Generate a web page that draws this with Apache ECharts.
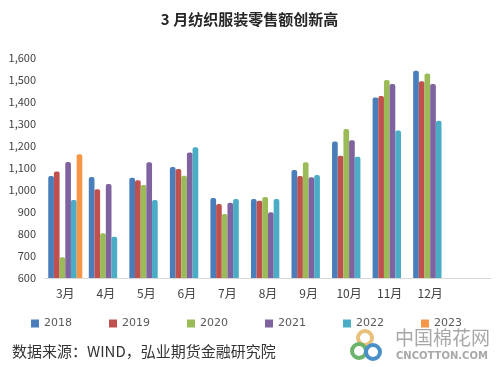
<!DOCTYPE html>
<html><head><meta charset="utf-8">
<script src="https://cdn.jsdelivr.net/npm/echarts@6/dist/echarts.min.js"></script>
<style>html,body{margin:0;padding:0;background:#fff}#c{width:499px;height:367px}</style>
</head><body><div id="c"></div>
<script>
const months = ['3月','4月','5月','6月','7月','8月','9月','10月','11月','12月',''];
const years = ['2018','2019','2020','2021','2022','2023'];
const v2018 = [1064,1059,1056,1105,964,959,1091,1220,1420,1542];
const v2019 = [1084,1003,1044,1095,936,951,1064,1156,1427,1494];
const v2020 = [694,803,1023,1065,891,968,1126,1277,1500,1530];
const v2021 = [1127,1027,1126,1171,942,899,1058,1226,1482,1482];
const v2022 = [955,788,955,1194,959,959,1068,1151,1270,1315];
const v2023 = [1163];
const yTicks = [600,700,800,900,1000,1100,1200,1300,1400,1500,1600];
const colors = ['#4a7ebb','#c0504d','#9bbb59','#7f63a1','#4bacc6','#f79646'];
const values = [v2018,v2019,v2020,v2021,v2022,v2023];

const chart = echarts.init(document.getElementById('c'));
const font = '"Noto Sans CJK SC", sans-serif';
chart.setOption({
  animation:false,
  textStyle:{fontFamily:font},
  title:{text:'3 月纺织服装零售额创新高',left:'center',top:7,
    textStyle:{fontSize:15,fontWeight:'bold',color:'#262626',fontFamily:'"Noto Sans CJK SC", serif'}},
  grid:{left:45,right:8,top:58,bottom:89},
  legend:{left:26,top:313,itemWidth:8,itemHeight:8,itemGap:37,icon:'rect',
    textStyle:{fontSize:11,color:'#595959',fontFamily:'"DejaVu Sans", sans-serif'},data:years},
  xAxis:{type:'category',data:months,
    axisLine:{lineStyle:{color:'#d9d9d9'}},axisTick:{show:false},
    axisLabel:{color:'#404040',fontSize:12,margin:9,interval:0}},
  yAxis:{type:'value',min:600,max:1600,interval:100,
    axisLine:{show:false},axisTick:{show:false},splitLine:{show:false},
    axisLabel:{color:'#404040',fontSize:11,margin:9,
      formatter:v=>yTicks.includes(v)?v.toLocaleString('en-US'):''}},
  series: years.map((y,i)=>({name:y,type:'bar',data:values[i],
    barGap:'0%',barCategoryGap:'16%',
    itemStyle:{color:colors[i],borderRadius:[2,2,0,0]}})),
  graphic:[
    {type:'text',left:12,top:344,style:{text:'数据来源：WIND，弘业期货金融研究院',fontSize:15,fill:'#333',fontFamily:font}},
    {type:'circle',shape:{cx:365,cy:338,r:7},style:{fill:'none',stroke:'#e8c07a',lineWidth:4}},
    {type:'circle',shape:{cx:359,cy:351,r:7},style:{fill:'none',stroke:'#6bb36b',lineWidth:4}},
    {type:'circle',shape:{cx:373,cy:352,r:7},style:{fill:'none',stroke:'#4a90c8',lineWidth:4}},
    {type:'text',left:395,top:328,style:{text:'中国棉花网',fontSize:19,fill:'#a8a8a8',fontFamily:font}},
    {type:'text',left:396,top:351,style:{text:'CNCOTTON.COM',fontSize:10,fontWeight:'bold',fill:'#a8a8a8',fontFamily:'"DejaVu Sans", sans-serif'}}
  ]
});
</script></body></html>
